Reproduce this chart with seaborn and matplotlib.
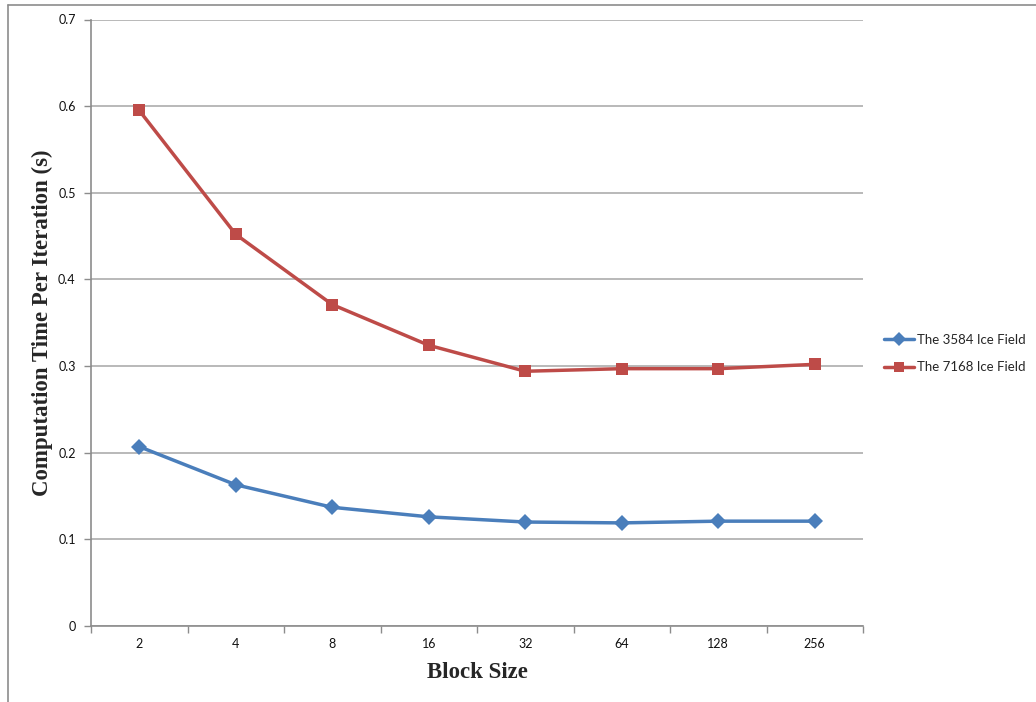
import matplotlib
matplotlib.use("Agg")
import matplotlib.pyplot as plt
import numpy as np
import pandas as pd
import seaborn as sns
from matplotlib.lines import Line2D

# Block sizes (categorical x axis)
block_sizes = ["2", "4", "8", "16", "32", "64", "128", "256"]

# Computation time per iteration (seconds)
field_3584 = [0.207, 0.163, 0.137, 0.126, 0.120, 0.119, 0.121, 0.121]
field_7168 = [0.595, 0.452, 0.371, 0.324, 0.294, 0.297, 0.297, 0.302]

series_names = ["The 3584 Ice Field", "The 7168 Ice Field"]
y_ticks = [0.0, 0.1, 0.2, 0.3, 0.4, 0.5, 0.6, 0.7]
y_tick_labels = ["0", "0.1", "0.2", "0.3", "0.4", "0.5", "0.6", "0.7"]

BLUE = "#4a7ebb"
RED = "#be4b48"
GRID = "#a6a6a6"
AXIS = "#8c8c8c"

positions = np.arange(len(block_sizes))
df = pd.DataFrame({
    "pos": np.concatenate([positions, positions]),
    "time": field_3584 + field_7168,
    "series": [series_names[0]] * len(block_sizes) + [series_names[1]] * len(block_sizes),
})

sns.set_style("white")
plt.rcParams["font.family"] = ["Lato", "DejaVu Sans"]

W, H = 1036, 702
fig = plt.figure(figsize=(W / 100, H / 100), dpi=100)
ax = fig.add_axes([91 / W, (H - 626) / H, 772 / W, 606.5 / H])

sns.lineplot(
    data=df, x="pos", y="time", hue="series", style="series",
    palette=[BLUE, RED], markers=["D", "s"], dashes=False,
    linewidth=2.5, markersize=8.5, markeredgewidth=0,
    legend=False, ax=ax, zorder=3,
)

ax.set_xlim(-0.5, len(block_sizes) - 0.5)
ax.set_ylim(0, 0.7)

# Category boundaries carry the tick marks; labels sit at category centres
ax.set_xticks(np.arange(-0.5, len(block_sizes)), labels=[""] * (len(block_sizes) + 1))
ax.set_xticks(positions, labels=block_sizes, minor=True)
ax.tick_params(axis="x", which="major", length=5, width=1, color=AXIS, direction="out")
ax.tick_params(axis="x", which="minor", length=0, pad=9, labelsize=9, labelcolor="#111111")

ax.set_yticks(y_ticks, labels=y_tick_labels)
ax.tick_params(axis="y", length=5, width=1, color=AXIS, direction="out", pad=6,
               labelsize=9, labelcolor="#111111")
ax.tick_params(left=True, bottom=True)

ax.yaxis.grid(True, color=GRID, linewidth=1.1, zorder=0)
ax.xaxis.grid(False)
ax.set_axisbelow(True)

for side in ["top", "right"]:
    ax.spines[side].set_visible(False)
for side in ["left", "bottom"]:
    ax.spines[side].set_color(AXIS)
    ax.spines[side].set_linewidth(1.2)

serif_bold = dict(family="Liberation Serif", weight="bold")
ax.set_xlabel("Block Size", fontsize=16.5, **serif_bold)
ax.set_ylabel("Computation Time Per Iteration (s)", fontsize=16.5, **serif_bold)
ax.xaxis.set_label_coords((477 - 91) / 772, -(673 - 626) / 606.5)
ax.yaxis.set_label_coords(-(91 - 42) / 772, (626 - 323) / 606.5)
ax.xaxis.label.set_va("center")
ax.yaxis.label.set_va("center")

handles = [
    Line2D([], [], color=BLUE, lw=2.5, marker="D", markersize=7, markeredgewidth=0),
    Line2D([], [], color=RED, lw=2.5, marker="s", markersize=7.5, markeredgewidth=0),
]
fig.legend(handles, series_names, loc="center left",
           bbox_to_anchor=(884 / W, 1 - 353.5 / H), frameon=False,
           fontsize=9.5, handlelength=2.3, handletextpad=0.2, labelspacing=1.2,
           borderaxespad=0, borderpad=0)

# Chart-area border along the top and left edges
fig.add_artist(Line2D([8 / W, 1.0], [1 - 4.5 / H, 1 - 4.5 / H], transform=fig.transFigure,
                      color="#8c8c8c", lw=1.2))
fig.add_artist(Line2D([8 / W, 8 / W], [0, 1 - 4.5 / H], transform=fig.transFigure,
                      color="#8c8c8c", lw=1.2))

fig.savefig("out.png", dpi=100, facecolor="white")
